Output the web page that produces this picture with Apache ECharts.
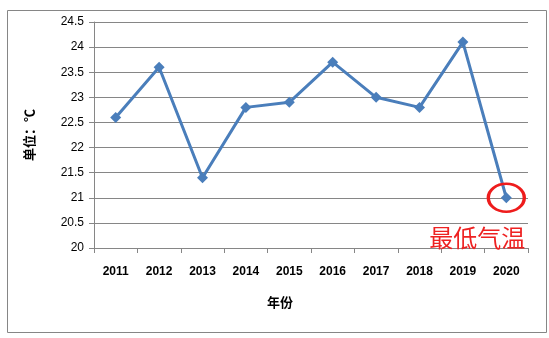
<!DOCTYPE html>
<html><head><meta charset="utf-8">
<script src="https://cdn.jsdelivr.net/npm/echarts@6/dist/echarts.min.js"></script>
<style>html,body{margin:0;padding:0;background:#fff}#c{width:549px;height:338px}</style>
</head><body><div id="c"></div>
<script>
const years = ['2011','2012','2013','2014','2015','2016','2017','2018','2019','2020'];
const temps = [22.6, 23.6, 21.4, 22.8, 22.9, 23.7, 23.0, 22.8, 24.1, 21.0];
const yTicks = ['20','20.5','21','21.5','22','22.5','23','23.5','24','24.5'];
const annotationText = '最低气温';
const yName = '单位：℃';
const xName = '年份';

const chart = echarts.init(document.getElementById('c'), null, {renderer:'canvas'});
const minIdx = temps.indexOf(Math.min(...temps));
chart.setOption({
  animation:false,
  backgroundColor:'#fff',
  graphic:[{type:'rect',left:5,top:8,shape:{width:539,height:322},style:{fill:'none',stroke:'#868686',lineWidth:1}}],
  grid:{left:94,right:21,top:22,bottom:90,containLabel:false},
  xAxis:{
    type:'category', data:years, boundaryGap:true,
    axisLine:{lineStyle:{color:'#868686'}},
    axisTick:{show:true,length:5,alignWithLabel:false,lineStyle:{color:'#868686'}},
    axisLabel:{color:'#000',fontSize:12,fontFamily:'Liberation Sans',fontWeight:'bold',margin:18},
    name:xName, nameLocation:'middle', nameGap:48,
    nameTextStyle:{color:'#000',fontSize:13,fontWeight:'bold',fontFamily:'Noto Sans CJK SC',padding:[0,62,0,0]}
  },
  yAxis:{
    type:'value', min:20, max:24.5, interval:0.5,
    axisLine:{show:true,lineStyle:{color:'#868686'}},
    axisTick:{show:true,length:5,lineStyle:{color:'#868686'}},
    splitLine:{lineStyle:{color:'#868686'}},
    axisLabel:{color:'#000',fontSize:12,fontFamily:'Liberation Sans',margin:10,
      formatter:(v)=>yTicks[Math.round((v-20)/0.5)]},
    name:yName, nameLocation:'middle', nameGap:58, nameRotate:90,
    nameTextStyle:{color:'#000',fontSize:13,fontWeight:'bold',fontFamily:'Noto Sans CJK SC'}
  },
  series:[{
    type:'line', data:temps,
    symbol:'diamond', symbolSize:11,
    lineStyle:{color:'#4a7ebb',width:3},
    itemStyle:{color:'#4a7ebb'},
    markPoint:{
      symbol:'circle', symbolSize:[36,28],
      itemStyle:{color:'rgba(0,0,0,0)',borderColor:'#ee1c1c',borderWidth:3},
      label:{show:true,formatter:annotationText,color:'#ee2222',fontSize:24,
        fontFamily:'Noto Sans CJK SC',position:'bottom',offset:[-29,8]},
      data:[{coord:[years[minIdx], temps[minIdx]]}]
    }
  }]
});
</script></body></html>
